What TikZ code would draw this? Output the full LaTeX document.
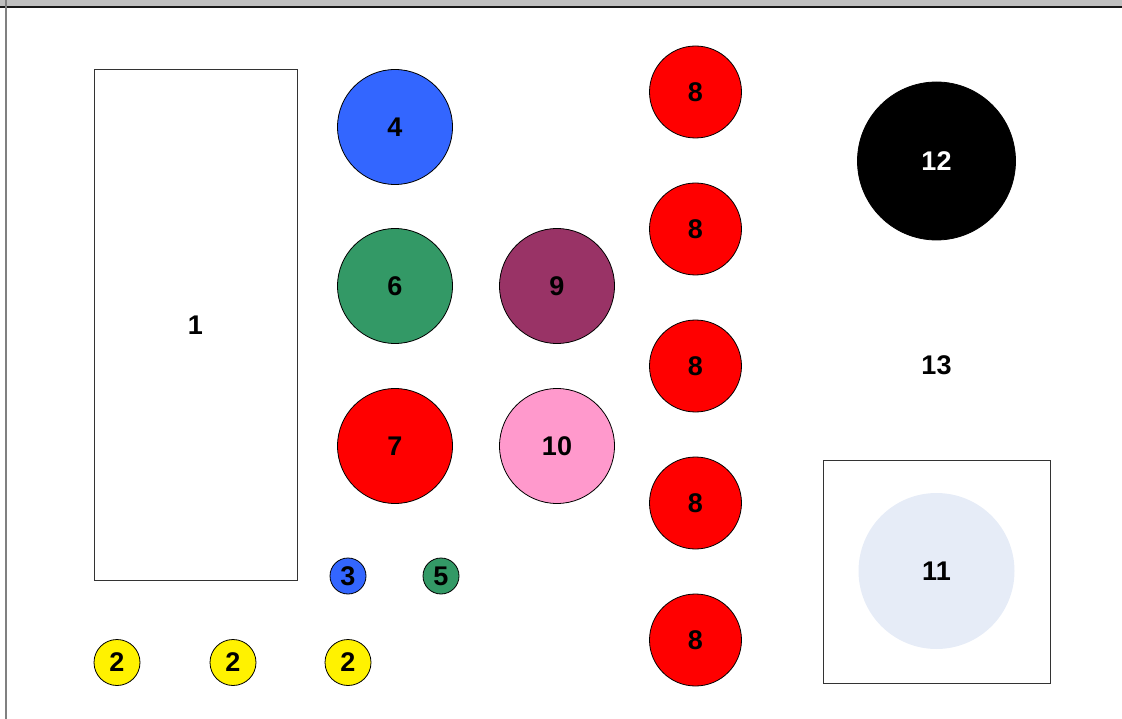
\documentclass[tikz,border=0pt]{standalone}
\usepackage{fontspec}
\setmainfont{Liberation Sans}
\usetikzlibrary{calc,positioning}

\definecolor{cblue}{HTML}{3366FF}
\definecolor{cgreen}{HTML}{339966}
\definecolor{cplum}{HTML}{993366}
\definecolor{cpink}{HTML}{FF99CC}
\definecolor{cpale}{HTML}{E6ECF7}
\definecolor{cbar}{HTML}{C0C0C0}

\tikzset{
  lbl/.style={font=\fontsize{27}{30}\selectfont\bfseries, inner sep=0pt},
  disc/.style={lbl, circle, draw=black, line width=0.8pt, minimum size=#1},
  big/.style={disc=115pt},
  mid/.style={disc=92pt},
  tiny/.style={disc=46pt},
  dot/.style={disc=36pt},
  box/.style={draw=black!80, line width=1pt}
}

\begin{document}
\begin{tikzpicture}[x=1pt, y=-1pt]

\useasboundingbox (0,0) rectangle (1122,719);

% frame
\fill [cbar] (0,0) rectangle (1122,6);
\draw [line width=2.5pt, black!90] (0,7) -- (1122,7);
\draw [line width=1.5pt, black!50] (6,0) -- (6,719);

% rooms
\node [box, minimum width=203pt, minimum height=510pt, lbl] (one) at (195.5,325) {1};
\draw [box] (823,460) rectangle (1050,683);

% left column
\node [big, fill=cblue] (four) at (395,127) {4};
\node [big, fill=cgreen] (six) at (395,286) {6};
\node [big, fill=red] (seven) at (395,446) {7};

\node [big, fill=cplum] (nine) at (557,286) {9};
\node [big, fill=cpink] (ten) at (557,446) {10};

\node [dot, fill=cblue] (three) at (348,576) {3};
\node [dot, fill=cgreen] (five) at (441,576) {5};

\foreach \x/\n in {117/a, 233/b, 348/c}
  \node [tiny, fill=yellow] (two\n) at (\x,662.5) {2};

% column of eights
\foreach \y/\n in {92/a, 229/b, 366/c, 503/d, 640/e}
  \node [mid, fill=red] (eight\n) at (695.5,\y) {8};

% right side
\node [disc=158pt, fill=black, text=white] (twelve) at (936.5,161) {12};
\node [lbl] (thirteen) at (936.5,365.5) {13};
\node [lbl, circle, fill=cpale, minimum size=156pt] (eleven) at (936.5,571) {11};

\end{tikzpicture}
\end{document}
